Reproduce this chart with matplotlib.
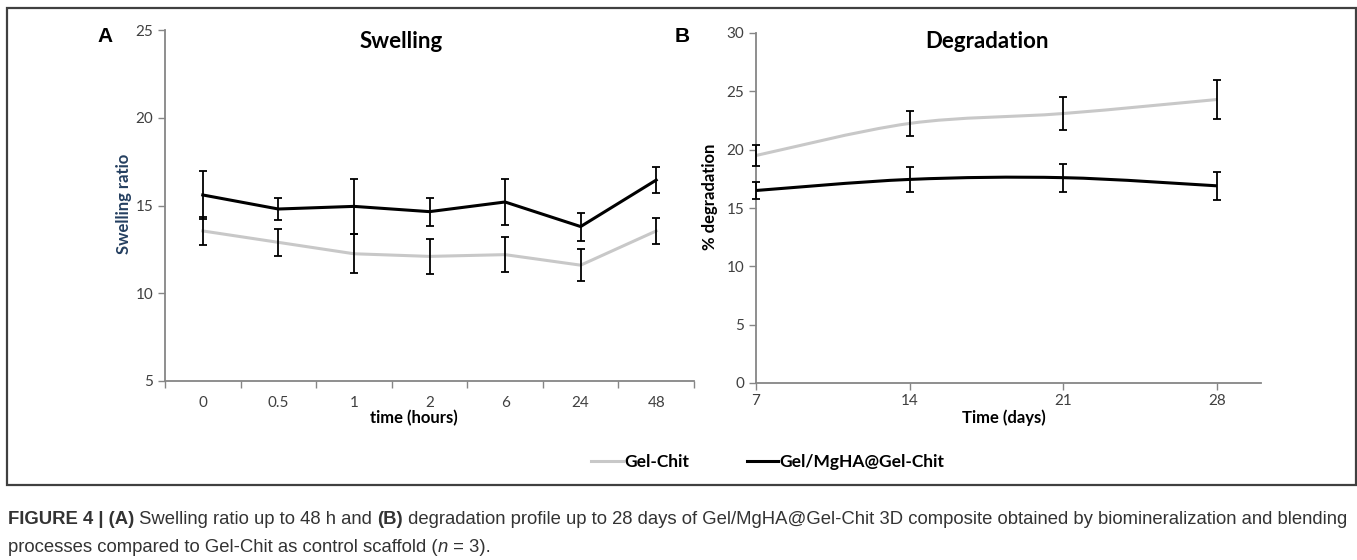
import matplotlib
matplotlib.use("Agg")
import matplotlib.pyplot as plt
from matplotlib import font_manager
from matplotlib.lines import Line2D
from matplotlib.path import Path
from matplotlib.patches import PathPatch, Rectangle

# --- data ---
hours = ["0", "0.5", "1", "2", "6", "24", "48"]
swell_gelchit = [13.55, 12.9, 12.25, 12.1, 12.2, 11.6, 13.55]
swell_gelchit_err = [0.8, 0.75, 1.1, 1.0, 1.0, 0.9, 0.75]
swell_mgha = [15.6, 14.8, 14.95, 14.65, 15.2, 13.8, 16.45]
swell_mgha_err = [1.35, 0.6, 1.55, 0.8, 1.3, 0.8, 0.75]

days = [7, 14, 21, 28]
degr_gelchit = [19.5, 22.25, 23.1, 24.3]
degr_gelchit_err = [0.9, 1.1, 1.4, 1.7]
degr_mgha = [16.5, 17.45, 17.6, 16.9]
degr_mgha_err = [0.75, 1.1, 1.2, 1.2]

series_names = ["Gel-Chit", "Gel/MgHA@Gel-Chit"]

GRAY_LINE = "#C8C8C8"
BLACK = "#000000"
AXIS_GRAY = "#868686"
TICK_TXT = "#404040"

installed = {f.name for f in font_manager.fontManager.ttflist}
CHART_FONT = ["Lato", "DejaVu Sans"]
NARROW = "Liberation Sans Narrow" if "Liberation Sans Narrow" in installed else "Liberation Sans"
plt.rcParams["font.family"] = CHART_FONT

W, H = 1357, 560
fig = plt.figure(figsize=(W / 100, H / 100), dpi=100)


def px_rect(x0, y0, x1, y1):
    """Pixel box (top-left origin) -> figure fraction [l, b, w, h]."""
    return [x0 / W, 1 - y1 / H, (x1 - x0) / W, (y1 - y0) / H]


def style_axes(ax):
    for side in ("top", "right"):
        ax.spines[side].set_visible(False)
    for side in ("left", "bottom"):
        ax.spines[side].set_color(AXIS_GRAY)
        ax.spines[side].set_linewidth(1.3)
    ax.tick_params(axis="both", colors=AXIS_GRAY, labelcolor=TICK_TXT,
                   labelsize=11, length=5, width=1.0)


def smooth_path(xs, ys):
    """Excel-like smoothed line: cubic Bezier segments through the points."""
    pts = list(zip(xs, ys))
    verts = [pts[0]]
    codes = [Path.MOVETO]
    n = len(pts)
    for i in range(n - 1):
        p0 = pts[i - 1] if i > 0 else pts[i]
        p1 = pts[i]
        p2 = pts[i + 1]
        p3 = pts[i + 2] if i + 2 < n else pts[i + 1]
        c1 = (p1[0] + (p2[0] - p0[0]) / 6, p1[1] + (p2[1] - p0[1]) / 6)
        c2 = (p2[0] - (p3[0] - p1[0]) / 6, p2[1] - (p3[1] - p1[1]) / 6)
        verts += [c1, c2, p2]
        codes += [Path.CURVE4] * 3
    return Path(verts, codes)


# ---------------- Panel A: swelling ----------------
axA = fig.add_axes(px_rect(165, 30, 694, 381))
style_axes(axA)
xA = list(range(len(hours)))
axA.plot(xA, swell_gelchit, color=GRAY_LINE, lw=2.2, zorder=2)
axA.plot(xA, swell_mgha, color=BLACK, lw=2.2, zorder=3)
for vals, errs in ((swell_gelchit, swell_gelchit_err), (swell_mgha, swell_mgha_err)):
    axA.errorbar(xA, vals, yerr=errs, fmt="none", ecolor=BLACK,
                 elinewidth=1.3, capsize=3, capthick=1.3, zorder=4)
axA.set_xlim(-0.5, len(hours) - 0.5)
axA.set_ylim(5, 25)
axA.set_yticks([5, 10, 15, 20, 25])
axA.set_xticks([i - 0.5 for i in range(len(hours) + 1)])
axA.set_xticklabels([])
axA.set_xticks(xA, minor=True)
axA.set_xticklabels(hours, minor=True)
axA.tick_params(axis="x", which="minor", length=0, pad=11, labelsize=11,
                labelcolor=TICK_TXT)

# ---------------- Panel B: degradation ----------------
axB = fig.add_axes(px_rect(756, 33, 1261, 383))
style_axes(axB)
axB.add_patch(PathPatch(smooth_path(days, degr_gelchit), fill=False,
                        edgecolor=GRAY_LINE, lw=2.2, zorder=2))
axB.add_patch(PathPatch(smooth_path(days, degr_mgha), fill=False,
                        edgecolor=BLACK, lw=2.2, zorder=3))
for vals, errs in ((degr_gelchit, degr_gelchit_err), (degr_mgha, degr_mgha_err)):
    axB.errorbar(days, vals, yerr=errs, fmt="none", ecolor=BLACK,
                 elinewidth=1.3, capsize=3, capthick=1.3, zorder=4,
                 clip_on=False)
axB.set_xlim(7, 30)
axB.set_ylim(0, 30)
axB.set_yticks(range(0, 31, 5))
axB.set_xticks(days)
axB.tick_params(axis="x", pad=3)

# ---------------- titles and labels ----------------
fig.text(105 / W, 1 - 37 / H, "A", fontsize=15, fontweight="bold",
         ha="center", va="center", family=["Liberation Sans", "DejaVu Sans"])
fig.text(682 / W, 1 - 37 / H, "B", fontsize=15, fontweight="bold",
         ha="center", va="center", family=["Liberation Sans", "DejaVu Sans"])
fig.text(401 / W, 1 - 42 / H, "Swelling", fontsize=16, fontweight="bold",
         ha="center", va="center")
fig.text(987 / W, 1 - 42 / H, "Degradation", fontsize=16, fontweight="bold",
         ha="center", va="center")
fig.text(124 / W, 1 - 204 / H, "Swelling ratio", fontsize=12, fontweight="bold",
         color="#243F60", rotation=90, ha="center", va="center")
fig.text(710 / W, 1 - 197 / H, "% degradation", fontsize=12, fontweight="bold",
         rotation=90, ha="center", va="center")
fig.text(414 / W, 1 - 418 / H, "time (hours)", fontsize=12, fontweight="bold",
         ha="center", va="center")
fig.text(1004 / W, 1 - 418 / H, "Time (days)", fontsize=12, fontweight="bold",
         ha="center", va="center")

# legend
handles = [Line2D([0], [0], color=GRAY_LINE, lw=2.2),
           Line2D([0], [0], color=BLACK, lw=2.2)]
leg = fig.legend(handles, series_names, loc="center", ncol=2, frameon=False,
                 bbox_to_anchor=(768 / W, 1 - 462 / H), handlelength=1.8,
                 handletextpad=0.1, columnspacing=3.3,
                 prop={"weight": "bold", "size": 12.5})

# outer frame around the chart area
fig.patches.append(Rectangle((7 / W, 1 - 485 / H), (1356 - 7) / W, (485 - 8) / H,
                             transform=fig.transFigure, fill=False,
                             edgecolor="#404040", lw=1.6))

# ---------------- caption (mixed bold / italic runs) ----------------
renderer = fig.canvas.get_renderer()
line1 = [("FIGURE 4 | (A)", "bold", "normal"),
         (" Swelling ratio up to 48 h and ", "normal", "normal"),
         ("(B)", "bold", "normal"),
         (" degradation profile up to 28 days of Gel/MgHA@Gel-Chit 3D composite "
          "obtained by biomineralization and blending", "normal", "normal")]
line2 = [("processes compared to Gel-Chit as control scaffold (", "normal", "normal"),
         ("n", "normal", "italic"),
         (" = 3).", "normal", "normal")]


def place_runs(runs, x0, y, size, draw=True):
    x = x0
    for txt, weight, style in runs:
        t = fig.text(x / W, 1 - y / H, txt, fontsize=size, fontweight=weight,
                     fontstyle=style, family=[NARROW, "DejaVu Sans"],
                     color="#333333", ha="left", va="center")
        x += t.get_window_extent(renderer).width
        if not draw:
            t.remove()
    return x - x0


base = 12
width = place_runs(line1, 8, 519, base, draw=False)
cap_size = base * (1344 / width)
place_runs(line1, 8, 519, cap_size)
place_runs(line2, 8, 547, cap_size)

fig.savefig("out.png", dpi=100)
